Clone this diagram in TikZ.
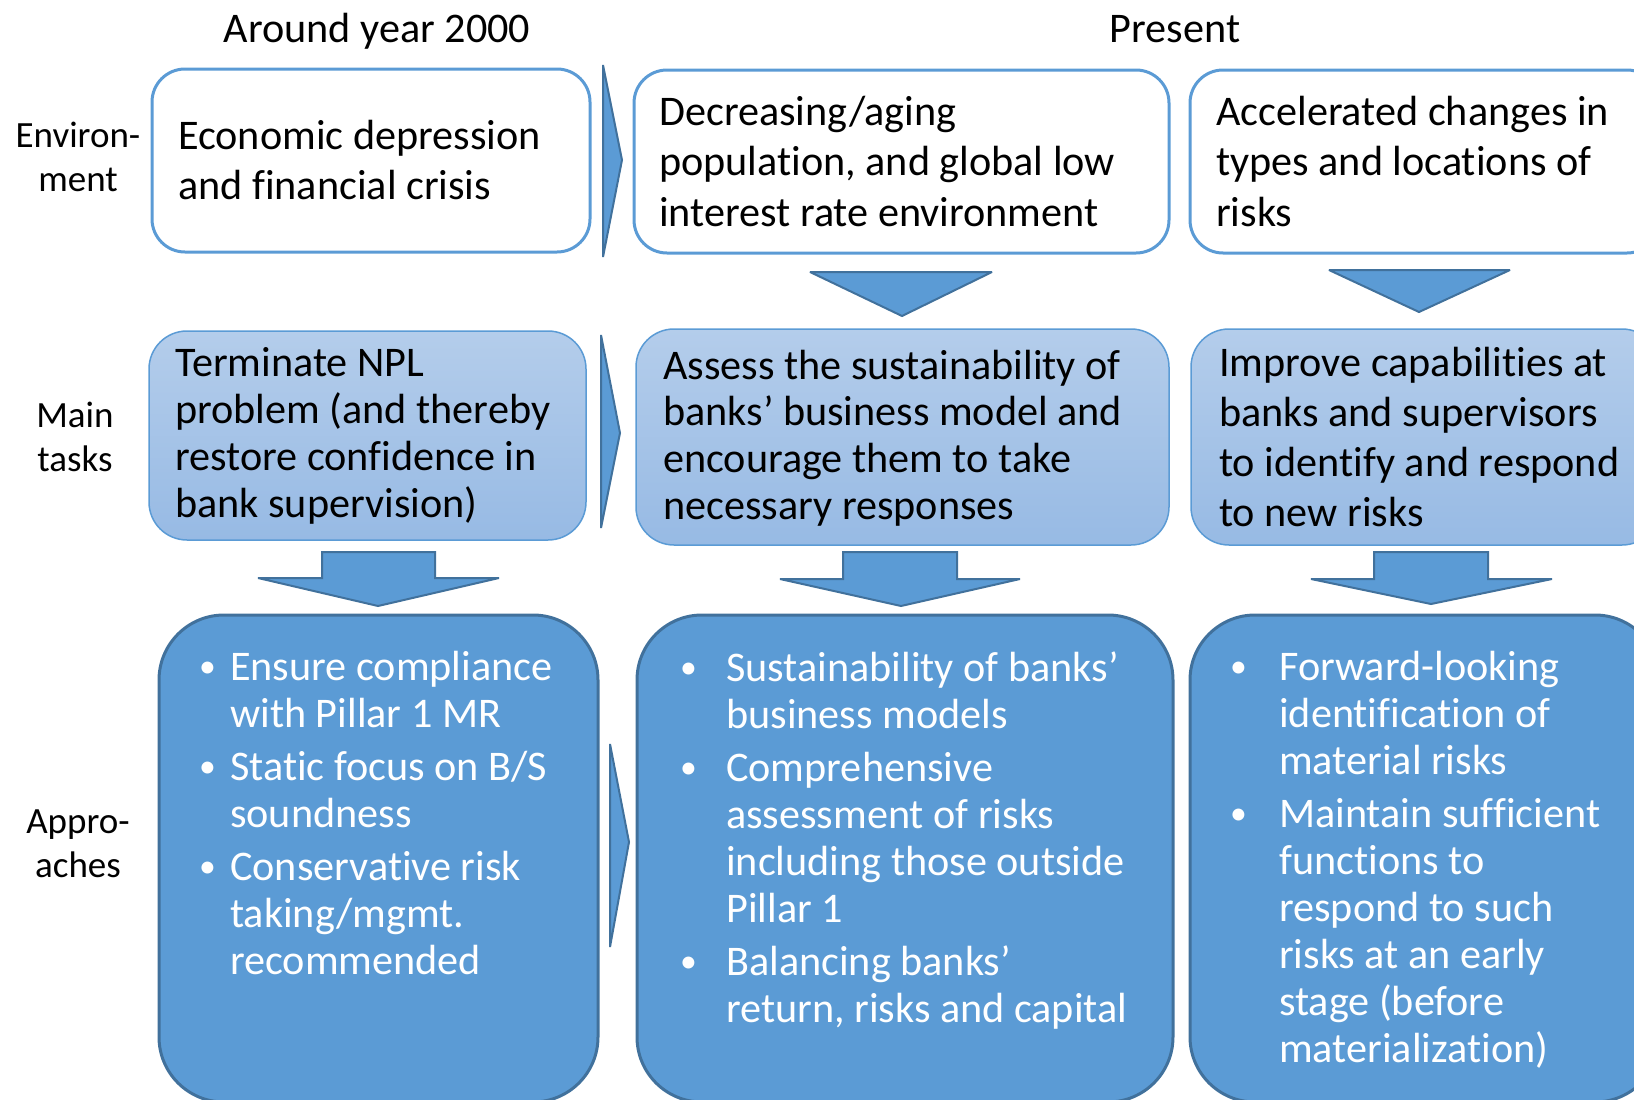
\documentclass[tikz,border=0pt]{standalone}
\usepackage{fontspec}
\usepackage{graphicx}
\setmainfont{Carlito}[Ligatures=CommonOff]
\definecolor{ofblue}{HTML}{5B9BD5}
\definecolor{ofdark}{HTML}{41719C}
\definecolor{tasktop}{HTML}{B4CDEB}
\definecolor{taskbot}{HTML}{97BAE4}
\newcommand\mytab[2]{{\fontsize{42.2}{#1}\selectfont\begin{tabular}[t]{@{}l@{}}#2\end{tabular}}}
\newcommand\mylab[1]{{\fontsize{37}{44}\selectfont\begin{tabular}[t]{@{}c@{}}#1\end{tabular}}}
\newcommand\mybul[2]{{\fontsize{42.2}{47}\selectfont\color{white}\begin{tabular}[t]{@{}p{#1}@{}l@{}}#2\end{tabular}}}
\newcommand\bu{\hspace*{2pt}\raisebox{3pt}{\scalebox{0.8}{•}}}
\begin{document}
\begin{tikzpicture}[x=1pt,y=-1pt,
  envbox/.style={draw=ofblue, line width=3pt, rounded corners=33pt, fill=white, inner sep=0pt},
  taskbox/.style={draw=ofblue, line width=1.5pt, rounded corners=38pt, top color=tasktop, bottom color=taskbot, inner sep=0pt},
  apbox/.style={draw=ofdark, line width=3pt, rounded corners=65pt, fill=ofblue, inner sep=0pt},
  arr/.style={fill=ofblue, draw=ofdark, line width=2pt, line join=miter, miter limit=1.5},
  txt/.style={anchor=base west, inner sep=0pt},
  hdr/.style={anchor=base, inner sep=0pt, font=\fontsize{42.2}{50}\selectfont},
  lab/.style={anchor=base, inner sep=0pt}]
\useasboundingbox (0,0) rectangle (1634,1100);
\clip (0,0) rectangle (1634,1100);

% headers
\node[hdr] (h1) at (377,42) {Around year 2000};
\node[hdr] (h2) at (1175,42) {Present};

% row labels
\node[lab] (l1) at (78,147) {\mylab{Environ-\\ment}};
\node[lab] (l2) at (75,427) {\mylab{Main\\tasks}};
\node[lab] (l3) at (78,833) {\mylab{Appro-\\aches}};

% environment boxes
\node[envbox, minimum width=438pt, minimum height=183pt] (e1) at (371,160.5) {};
\node[envbox, minimum width=535pt, minimum height=183pt] (e2) at (901.5,161.5) {};
\node[envbox, minimum width=470pt, minimum height=183pt] (e3) at (1425,161.5) {};
\node[txt] (te1) at (178,149) {\mytab{50}{Economic depression\\and financial crisis}};
\node[txt] (te2) at (659,125) {\mytab{50.5}{Decreasing/aging\\population, and global low\\interest rate environment}};
\node[txt] (te3) at (1216,125) {\mytab{50.5}{Accelerated changes in\\types and locations of\\risks}};

% task boxes
\node[taskbox, minimum width=437pt, minimum height=209pt] (t1) at (367.5,435.5) {};
\node[taskbox, minimum width=533pt, minimum height=216pt] (t2) at (902.5,437) {};
\node[taskbox, minimum width=469pt, minimum height=216pt] (t3) at (1425.5,437) {};
\node[txt] (tt1) at (175,376) {\mytab{47.3}{Terminate NPL\\problem (and thereby\\restore confidence in\\bank supervision)}};
\node[txt] (tt2) at (663,379) {\mytab{46.7}{Assess the sustainability of\\banks’ business model and\\encourage them to take\\necessary responses}};
\node[txt] (tt3) at (1219,376) {\mytab{50}{Improve capabilities at\\banks and supervisors\\to identify and respond\\to new risks}};

% approach boxes
\node[apbox, minimum width=439pt, minimum height=487pt] (a1) at (378.5,858.5) {};
\node[apbox, minimum width=536pt, minimum height=487pt] (a2) at (905,858.5) {};
\node[apbox, minimum width=470pt, minimum height=487pt] (a3) at (1425,858.5) {};
\node[txt] (ta1) at (197,680) {\mybul{33pt}{\bu&Ensure compliance\\&with Pillar 1 MR\\[6pt]\bu&Static focus on B/S\\&soundness\\[6pt]\bu&Conservative risk\\&taking/mgmt.\\&recommended}};
\node[txt] (ta2) at (678,681) {\mybul{48pt}{\bu&Sustainability of banks’\\&business models\\[6pt]\bu&Comprehensive\\&assessment of risks\\&including those outside\\&Pillar 1\\[6pt]\bu&Balancing banks’\\&return, risks and capital}};
\node[txt] (ta3) at (1228,680) {\mybul{51pt}{\bu&Forward-looking\\&identification of\\&material risks\\[6pt]\bu&Maintain sufficient\\&functions to\\&respond to such\\&risks at an early\\&stage (before\\&materialization)}};

% right-pointing chevrons between columns
\draw[arr] (603,65) -- (622,160) -- (603,257) -- cycle;
\draw[arr] (601,335) -- (620,433) -- (601,528) -- cycle;
\draw[arr] (610,744) -- (629,842) -- (610,947) -- cycle;

% down triangles env -> task
\draw[arr] (810,272) -- (992,272) -- (902,316) -- cycle;
\draw[arr] (1329,270) -- (1510,270) -- (1419,312) -- cycle;

% block arrows task -> approach
\draw[arr] (322,552) -- (435,552) -- (435,578) -- (499,578) -- (378,606) -- (258,578) -- (322,578) -- cycle;
\draw[arr] (843,552) -- (957,552) -- (957,579) -- (1020,579) -- (901,606) -- (780,579) -- (843,579) -- cycle;
\draw[arr] (1374,552) -- (1488,552) -- (1488,579) -- (1552,579) -- (1431,604) -- (1311,579) -- (1374,579) -- cycle;
\end{tikzpicture}
\end{document}
